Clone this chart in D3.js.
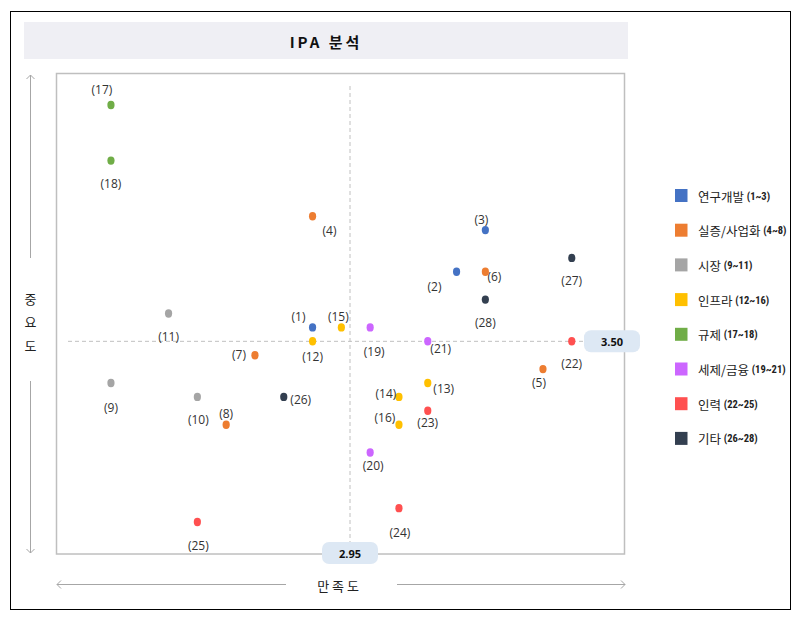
<!DOCTYPE html>
<html><head><meta charset="utf-8">
<script src="https://cdn.jsdelivr.net/npm/d3@7"></script>
<style>
html,body{margin:0;padding:0;background:#fff;}
svg{display:block;}
</style></head>
<body>
<script>
// ---- data ----
const categories = ['연구개발','실증/사업화','시장','인프라','규제','세제/금융','인력','기타'];
const categoryRanges = ['1~3','4~8','9~11','12~16','17~18','19~21','22~25','26~28'];
const categoryColors = ['#4472c4','#ed7d31','#a5a5a5','#ffc000','#70ad47','#cc66ff','#ff5050','#333f50'];
const itemIds = [1,2,3,4,5,6,7,8,9,10,11,12,13,14,15,16,17,18,19,20,21,22,23,24,25,26,27,28];
const itemGroup = [0,0,0,1,1,1,1,1,2,2,2,3,3,3,3,3,4,4,5,5,5,6,6,6,6,7,7,7];
const satisfaction = [2.82,3.32,3.42,2.82,3.62,3.42,2.62,2.52,2.12,2.42,2.32,2.82,3.22,3.12,2.92,3.12,2.12,2.12,3.02,3.02,3.22,3.72,3.22,3.12,2.42,2.72,3.72,3.42];
const importance   = [3.55,3.75,3.90,3.95,3.40,3.75,3.45,3.20,3.35,3.30,3.60,3.50,3.35,3.30,3.55,3.20,4.35,4.15,3.55,3.10,3.50,3.50,3.25,2.90,2.85,3.30,3.80,3.65];
const meanSatisfaction = 2.95;
const meanImportance = 3.50;
const titleText = 'IPA 분석';
const xAxisTitle = '만 족 도';
const yAxisTitle = ['중','요','도'];

// label placement (layout only): offset of label centre from its point
const labelOffsets = [[-14,-11],[-22,15],[-4,-11],[17,14],[-4,13],[9,5],[-16,-1],[0,-11],[0,24],[1,23],[0,23],[0,15],[16,5],[-13,-3],[-3,-11],[-14,-7],[-9,-15],[0,23],[4,24],[3,13],[13,7],[0,22],[0,12],[1,24],[1,23],[17,3],[0,23],[0,23]];

// ---- layout ----
const W = 801, H = 618;
const plot = {left:56.5, top:73.5, right:624.5, bottom:554};
const font = "'Open Sans','Noto Sans CJK KR',sans-serif";
const krFont = "'Noto Sans CJK KR','Noto Sans',sans-serif";

const x = d3.scaleLinear().domain([1.9309, 3.9031]).range([plot.left, plot.right]);
const y = d3.scaleLinear().domain([2.735, 4.4633]).range([plot.bottom, plot.top]);

const svg = d3.select('body').append('svg').attr('width', W).attr('height', H);

// outer border
svg.append('rect').attr('x',10.5).attr('y',11.5).attr('width',780).attr('height',598)
  .attr('fill','#fff').attr('stroke','#000').attr('stroke-width',1);

// title box
svg.append('rect').attr('x',24).attr('y',22).attr('width',604).attr('height',37).attr('fill','#efeff4');
svg.append('text').attr('x',326).attr('y',41).attr('text-anchor','middle').attr('dominant-baseline','central')
  .attr('font-family',krFont).attr('font-weight','bold').attr('font-size',15).attr('letter-spacing','3px')
  .attr('fill','#111').text(titleText);

// plot frame
svg.append('rect').attr('x',plot.left).attr('y',plot.top).attr('width',plot.right-plot.left).attr('height',plot.bottom-plot.top)
  .attr('fill','none').attr('stroke','#bfbfbf').attr('stroke-width',1.5);

// mean lines
svg.append('line').attr('x1',68).attr('x2',590).attr('y1',y(meanImportance)).attr('y2',y(meanImportance))
  .attr('stroke','#c0c0c0').attr('stroke-dasharray','4,3').attr('stroke-width',1);
svg.append('line').attr('x1',x(meanSatisfaction)).attr('x2',x(meanSatisfaction)).attr('y1',86).attr('y2',545)
  .attr('stroke','#c0c0c0').attr('stroke-dasharray','4,3').attr('stroke-width',1);

// mean badges
function badge(cx, cy, txt){
  svg.append('rect').attr('x',cx-28).attr('y',cy-11).attr('width',56).attr('height',22).attr('rx',7)
    .attr('fill','#dde8f4');
  svg.append('text').attr('x',cx).attr('y',cy).attr('text-anchor','middle').attr('dominant-baseline','central')
    .attr('font-family',font).attr('font-weight','bold').attr('font-size',11).attr('fill','#111').text(txt);
}
badge(x(meanSatisfaction), 553, meanSatisfaction.toFixed(2));
badge(612, y(meanImportance), meanImportance.toFixed(2));

// axis arrows
const arrowCol = '#a6a6a6';
function chevron(px, py, dir){
  const s = 4;
  let pts;
  if(dir==='up') pts=[[px-s,py+s],[px,py],[px+s,py+s]];
  if(dir==='down') pts=[[px-s,py-s],[px,py],[px+s,py-s]];
  if(dir==='left') pts=[[px+s,py-s],[px,py],[px+s,py+s]];
  if(dir==='right') pts=[[px-s,py-s],[px,py],[px-s,py+s]];
  svg.append('polyline').attr('points',pts.map(p=>p.join(',')).join(' ')).attr('fill','none')
    .attr('stroke',arrowCol).attr('stroke-width',1);
}
svg.append('line').attr('x1',30.5).attr('x2',30.5).attr('y1',75).attr('y2',258).attr('stroke',arrowCol);
svg.append('line').attr('x1',30.5).attr('x2',30.5).attr('y1',381).attr('y2',553).attr('stroke',arrowCol);
chevron(30.5,75,'up'); chevron(30.5,553,'down');
svg.append('line').attr('x1',57).attr('x2',286).attr('y1',584.5).attr('y2',584.5).attr('stroke',arrowCol);
svg.append('line').attr('x1',397).attr('x2',625).attr('y1',584.5).attr('y2',584.5).attr('stroke',arrowCol);
chevron(57,584.5,'left'); chevron(625,584.5,'right');

svg.append('text').attr('x',338).attr('y',585).attr('text-anchor','middle').attr('dominant-baseline','central')
  .attr('font-family',krFont).attr('font-size',13).attr('fill','#222').text(xAxisTitle);
svg.selectAll('text.ytitle').data(yAxisTitle).enter().append('text').attr('class','ytitle')
  .attr('x',30.5).attr('y',(d,i)=>298+i*23.5).attr('text-anchor','middle').attr('dominant-baseline','central')
  .attr('font-family',krFont).attr('font-size',13).attr('fill','#222').text(d=>d);

// points
const items = itemIds.map((id,i)=>({id, g:itemGroup[i], sx:satisfaction[i], im:importance[i], off:labelOffsets[i]}));
svg.append('g').selectAll('ellipse').data(items).enter().append('ellipse')
  .attr('cx',d=>x(d.sx)).attr('cy',d=>y(d.im)).attr('rx',3.6).attr('ry',4.2)
  .attr('fill',d=>categoryColors[d.g]);
svg.append('g').selectAll('text').data(items).enter().append('text')
  .attr('x',d=>x(d.sx)+d.off[0]).attr('y',d=>y(d.im)+d.off[1])
  .attr('text-anchor','middle').attr('dominant-baseline','central')
  .attr('font-family',font).attr('font-size',12).attr('fill','#333')
  .text(d=>'('+d.id+')');

// legend
const lg = svg.append('g').selectAll('g').data(categories).enter().append('g')
  .attr('transform',(d,i)=>`translate(675,${195.5+i*34.7})`);
lg.append('rect').attr('x',0).attr('y',-6.5).attr('width',12.5).attr('height',13).attr('fill',(d,i)=>categoryColors[i]);
const lt = lg.append('text').attr('x',23).attr('y',0).attr('dominant-baseline','central').attr('fill','#222');
lt.append('tspan').attr('font-family',krFont).attr('font-size',12.5).text(d=>d+' ');
lt.append('tspan').attr('font-family',"'Liberation Sans Narrow','Roboto Condensed','Open Sans',sans-serif")
  .attr('font-size',10.5).attr('font-weight','bold').text((d,i)=>'('+categoryRanges[i]+')');
</script>
</body></html>
